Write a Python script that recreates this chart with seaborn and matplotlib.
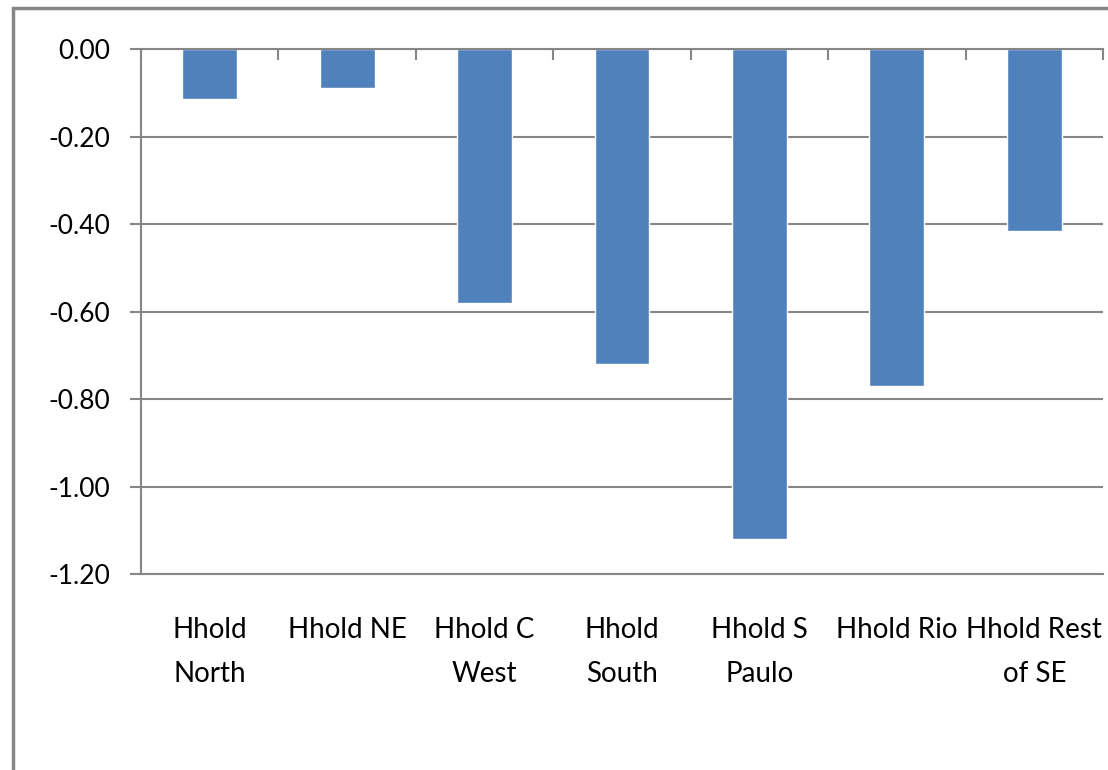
import matplotlib
matplotlib.use("Agg")
import matplotlib.pyplot as plt
from matplotlib.patches import Rectangle
import seaborn as sns
import pandas as pd

# Change by household region
categories = ["Hhold\nNorth", "Hhold NE", "Hhold C\nWest", "Hhold\nSouth",
              "Hhold S\nPaulo", "Hhold Rio", "Hhold Rest\nof SE"]
values = [-0.115, -0.09, -0.58, -0.72, -1.12, -0.77, -0.415]
y_ticks = [0.0, -0.2, -0.4, -0.6, -0.8, -1.0, -1.2]
y_tick_labels = ["0.00", "-0.20", "-0.40", "-0.60", "-0.80", "-1.00", "-1.20"]

sns.set_theme(style="white")
plt.rcParams["font.family"] = ["Lato", "DejaVu Sans"]

grey = "#868686"
bar_color = "#4F81BD"

W, H = 1108, 770
fig = plt.figure(figsize=(W / 100, H / 100), dpi=100)
ax = fig.add_axes([141 / W, 1 - 574 / H, (1103 - 141) / W, (574 - 49) / H])

df = pd.DataFrame({"cat": categories, "val": values})
sns.barplot(data=df, x="cat", y="val", color=bar_color, width=0.4,
            saturation=1, ax=ax, zorder=3)

ax.set_ylim(-1.2, 0)
ax.set_xlim(-0.5, len(categories) - 0.5)
ax.set_yticks(y_ticks)
ax.set_yticklabels(y_tick_labels, fontsize=19, color="black")
ax.yaxis.grid(True, color=grey, linewidth=1.5, zorder=0)
ax.xaxis.grid(False)
ax.set_xlabel("")
ax.set_ylabel("")

# category labels below the plot, boundary ticks on the zero line
ax.set_xticks(range(len(categories)))
ax.set_xticklabels(categories, fontsize=20, color="black", linespacing=1.85)
ax.tick_params(axis="x", which="major", length=0, pad=31)
ax.set_xticks([i - 0.5 for i in range(len(categories) + 1)], minor=True)
ax.tick_params(axis="x", which="minor", top=True, bottom=False,
               direction="in", length=8, width=1.5, color=grey)
ax.tick_params(axis="y", which="major", left=True, direction="out",
               length=8, width=1.5, color=grey, pad=14)

for side in ["top", "left", "bottom"]:
    ax.spines[side].set_visible(True)
    ax.spines[side].set_color(grey)
    ax.spines[side].set_linewidth(1.5)
ax.spines["right"].set_visible(False)
ax.spines["top"].set_zorder(4)

# outer chart frame
fig.patches.append(Rectangle((13 / W, -0.1), 1.2, 1 - 8 / H + 0.1,
                             transform=fig.transFigure, fill=False,
                             edgecolor=grey, linewidth=2.5))

fig.savefig("out.png", dpi=100, facecolor="white")
